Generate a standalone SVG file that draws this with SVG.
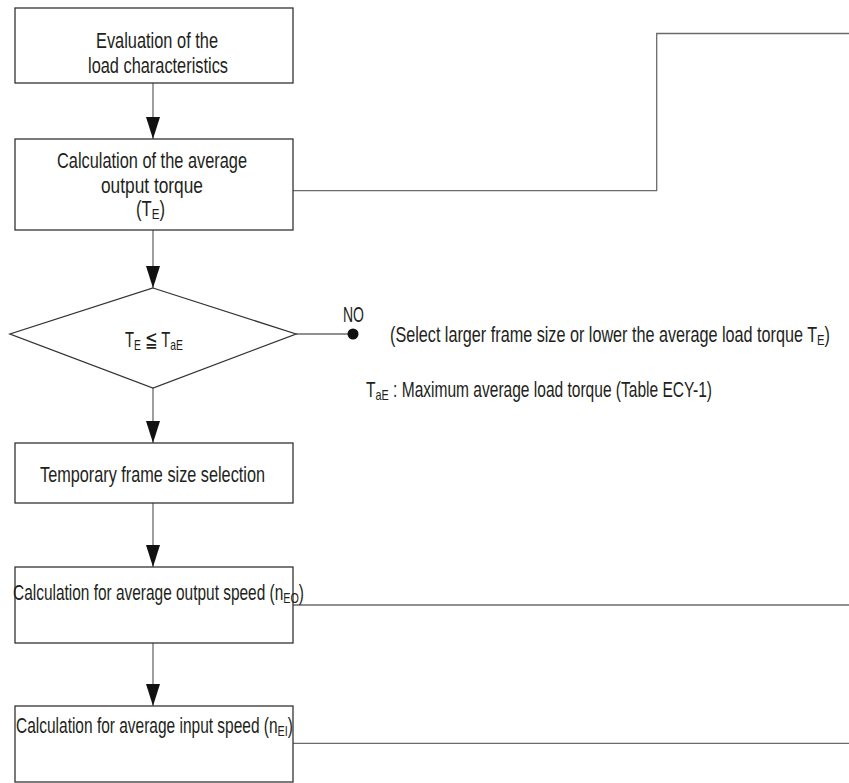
<svg xmlns="http://www.w3.org/2000/svg" width="849" height="783" viewBox="0 0 849 783">
<style>
.box{fill:#fff;stroke:#333;stroke-width:1.3}
.ln{fill:none;stroke:#6b6b6b;stroke-width:1.3}
.t{font-family:"Liberation Sans Narrow","Liberation Sans",Arial,sans-serif;font-size:21.5px;fill:#231f20}
.s{font-size:15px}
</style>
<defs>
<marker id="ah" viewBox="0 -7 22 14" refX="22" refY="0" markerWidth="22" markerHeight="14" markerUnits="userSpaceOnUse" orient="auto">
<path d="M0,-7 L22,0 L0,7 z" fill="#111"/>
</marker>
</defs>
<rect width="849" height="783" fill="#fff"/>
<g id="connectors">
<line class="ln" x1="153" y1="83" x2="153" y2="139" marker-end="url(#ah)"/>
<line class="ln" x1="153" y1="230" x2="153" y2="288" marker-end="url(#ah)"/>
<line class="ln" x1="153" y1="388" x2="153" y2="443" marker-end="url(#ah)"/>
<line class="ln" x1="153" y1="503" x2="153" y2="567" marker-end="url(#ah)"/>
<line class="ln" x1="153" y1="643" x2="153" y2="706" marker-end="url(#ah)"/>
<polyline class="ln" points="293,190.7 656.7,190.7 656.7,33.5 849,33.5"/>
<line class="ln" x1="296" y1="334" x2="353" y2="334"/>
<circle cx="353" cy="334" r="5.5" fill="#111"/>
<line class="ln" x1="293" y1="605" x2="849" y2="605"/>
<line class="ln" x1="293" y1="743.3" x2="849" y2="743.3"/>
</g>
<g id="n1">
<rect class="box" x="15" y="8" width="278" height="75"/>
<text class="t" x="96" y="48" textLength="122" lengthAdjust="spacingAndGlyphs">Evaluation of the</text>
<text class="t" x="88" y="73" textLength="140" lengthAdjust="spacingAndGlyphs">load characteristics</text>
</g>
<g id="n2">
<rect class="box" x="15" y="139" width="278" height="91"/>
<text class="t" x="57" y="168" textLength="190" lengthAdjust="spacingAndGlyphs">Calculation of the average</text>
<text class="t" x="101" y="193" textLength="102" lengthAdjust="spacingAndGlyphs">output torque</text>
<text class="t" x="136" y="216" textLength="29" lengthAdjust="spacingAndGlyphs">(T<tspan class="s" dy="3">E</tspan><tspan dy="-3">)</tspan></text>
</g>
<g id="n3">
<polygon class="box" points="153,288 296,334 153,388 10,334"/>
<text class="t" x="125" y="347" textLength="58" lengthAdjust="spacingAndGlyphs">T<tspan class="s" dy="3">E</tspan><tspan dy="-3"> ≦ T</tspan><tspan class="s" dy="3">aE</tspan></text>
</g>
<g id="no">
<text class="t" x="343" y="322" textLength="21" lengthAdjust="spacingAndGlyphs">NO</text>
<text class="t" x="390" y="342" textLength="440" lengthAdjust="spacingAndGlyphs">(Select larger frame size or lower the average load torque T<tspan class="s" dy="3">E</tspan><tspan dy="-3">)</tspan></text>
</g>
<g id="note">
<text class="t" x="366" y="397" textLength="346" lengthAdjust="spacingAndGlyphs">T<tspan class="s" dy="3">aE</tspan><tspan dy="-3"> : Maximum average load torque (Table ECY-1)</tspan></text>
</g>
<g id="n4">
<rect class="box" x="15" y="443" width="278" height="60"/>
<text class="t" x="40" y="482" textLength="225" lengthAdjust="spacingAndGlyphs">Temporary frame size selection</text>
</g>
<g id="n5">
<rect class="box" x="15" y="567" width="278" height="76"/>
<text class="t" x="13" y="600" textLength="291" lengthAdjust="spacingAndGlyphs">Calculation for average output speed (n<tspan class="s" dy="3">EO</tspan><tspan dy="-3">)</tspan></text>
</g>
<g id="n6">
<rect class="box" x="15" y="706" width="278" height="76"/>
<text class="t" x="16" y="733" textLength="277" lengthAdjust="spacingAndGlyphs">Calculation for average input speed (n<tspan class="s" dy="3">EI</tspan><tspan dy="-3">)</tspan></text>
</g>
</svg>
